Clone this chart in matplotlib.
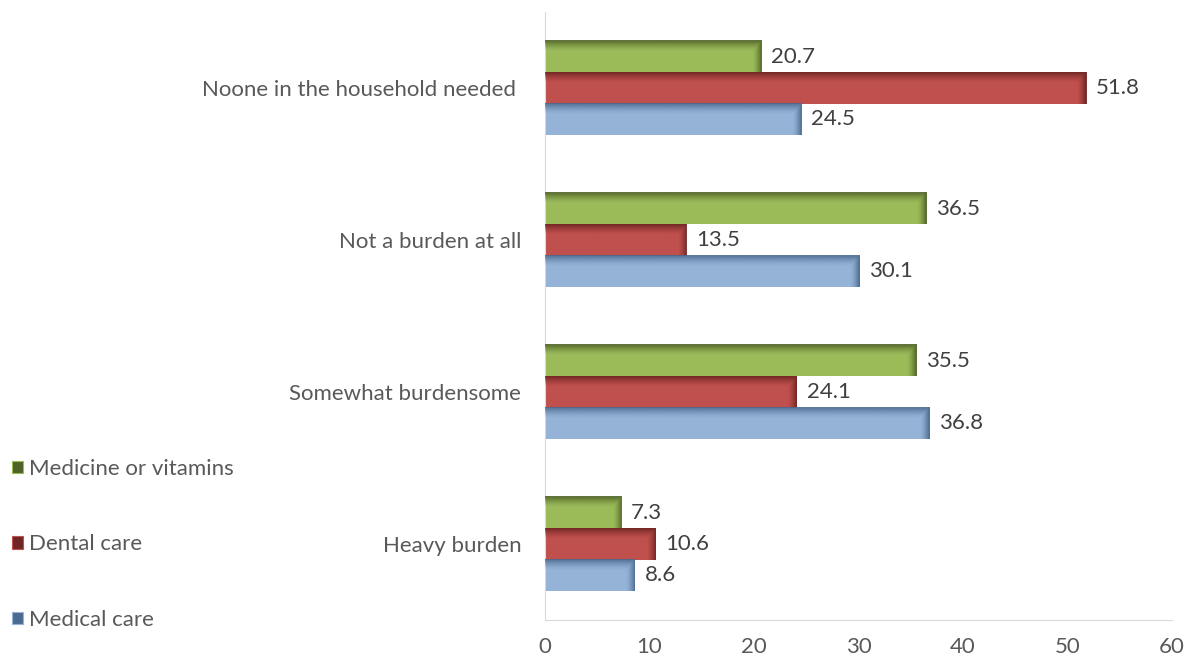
import numpy as np
import matplotlib
matplotlib.use('Agg')
import matplotlib.pyplot as plt
from matplotlib.patches import Patch
from matplotlib.colors import to_rgb

categories = ['Heavy burden', 'Somewhat burdensome', 'Not a burden at all',
              'Noone in the household needed ']
series = ['Medicine or vitamins', 'Dental care', 'Medical care']
medicine = [7.3, 35.5, 36.5, 20.7]
dental = [10.6, 24.1, 13.5, 51.8]
medical = [8.6, 36.8, 30.1, 24.5]

fill_colors = ['#9BBB59', '#C0504D', '#95B3D7']
edge_colors = ['#4F6228', '#6E2624', '#4A6A8F']
xticks = [0, 10, 20, 30, 40, 50, 60]

plt.rcParams['font.family'] = ['Lato', 'DejaVu Sans']

fig = plt.figure(figsize=(11.94, 6.62), dpi=100)
ax = fig.add_axes([0.4564, 0.0634, 0.5252, 0.9185])

h = 0.205
y = np.arange(len(categories))
offsets = [h, 0.0, -h]


def shade_bar(ax, bar, dark, px_x, px_y):
    # darken the top and right ends of a bar for a bevelled look
    x0, y0 = bar.get_x(), bar.get_y()
    w, bh = bar.get_width(), bar.get_height()
    nx, ny = 200, 40
    xs = np.linspace(0, w, nx)
    ys = np.linspace(bh, 0, ny)
    right = np.clip(1 - (w - xs) / px_x, 0, 1)
    top = np.clip(1 - (bh - ys) / px_y, 0, 1)
    a = np.maximum(right[None, :], top[:, None]) ** 1.5
    img = np.zeros((ny, nx, 4))
    img[..., :3] = to_rgb(dark)
    img[..., 3] = a * 0.92
    ax.imshow(img, extent=(x0, x0 + w, y0, y0 + bh), aspect='auto',
              interpolation='bilinear', zorder=3)


for vals, off, fc, ec in zip([medicine, dental, medical], offsets,
                             fill_colors, edge_colors):
    bars = ax.barh(y + off, vals, height=h, color=fc, zorder=2)
    for b, v in zip(bars, vals):
        shade_bar(ax, b, ec, 0.85, h * 0.35)
        ax.annotate(f'{v}', (v, b.get_y() + h / 2), xytext=(7, 0),
                    textcoords='offset points', va='center', ha='left',
                    fontsize=16, color='#404040')

ax.set_xlim(0, 60)
ax.set_ylim(-0.5, len(categories) - 0.5)
ax.set_xticks(xticks)
ax.set_yticks(y)
ax.set_yticklabels(categories)
ax.tick_params(axis='both', length=0, labelsize=16, labelcolor='#595959')
ax.tick_params(axis='y', pad=17)
ax.tick_params(axis='x', pad=12)
for s in ['top', 'right']:
    ax.spines[s].set_visible(False)
ax.spines['left'].set_color('#D9D9D9')
ax.spines['bottom'].set_color('#D9D9D9')

handles = [Patch(facecolor=ec, edgecolor=fc, linewidth=0.8)
           for fc, ec in zip(fill_colors, edge_colors)]
fig.legend(handles, series, loc='upper left', bbox_to_anchor=(-0.007, 0.337),
           frameon=False, fontsize=16, labelcolor='#595959',
           handlelength=0.5, handleheight=0.5, handletextpad=0.3,
           labelspacing=2.5)

fig.savefig('out.png', dpi=100)
